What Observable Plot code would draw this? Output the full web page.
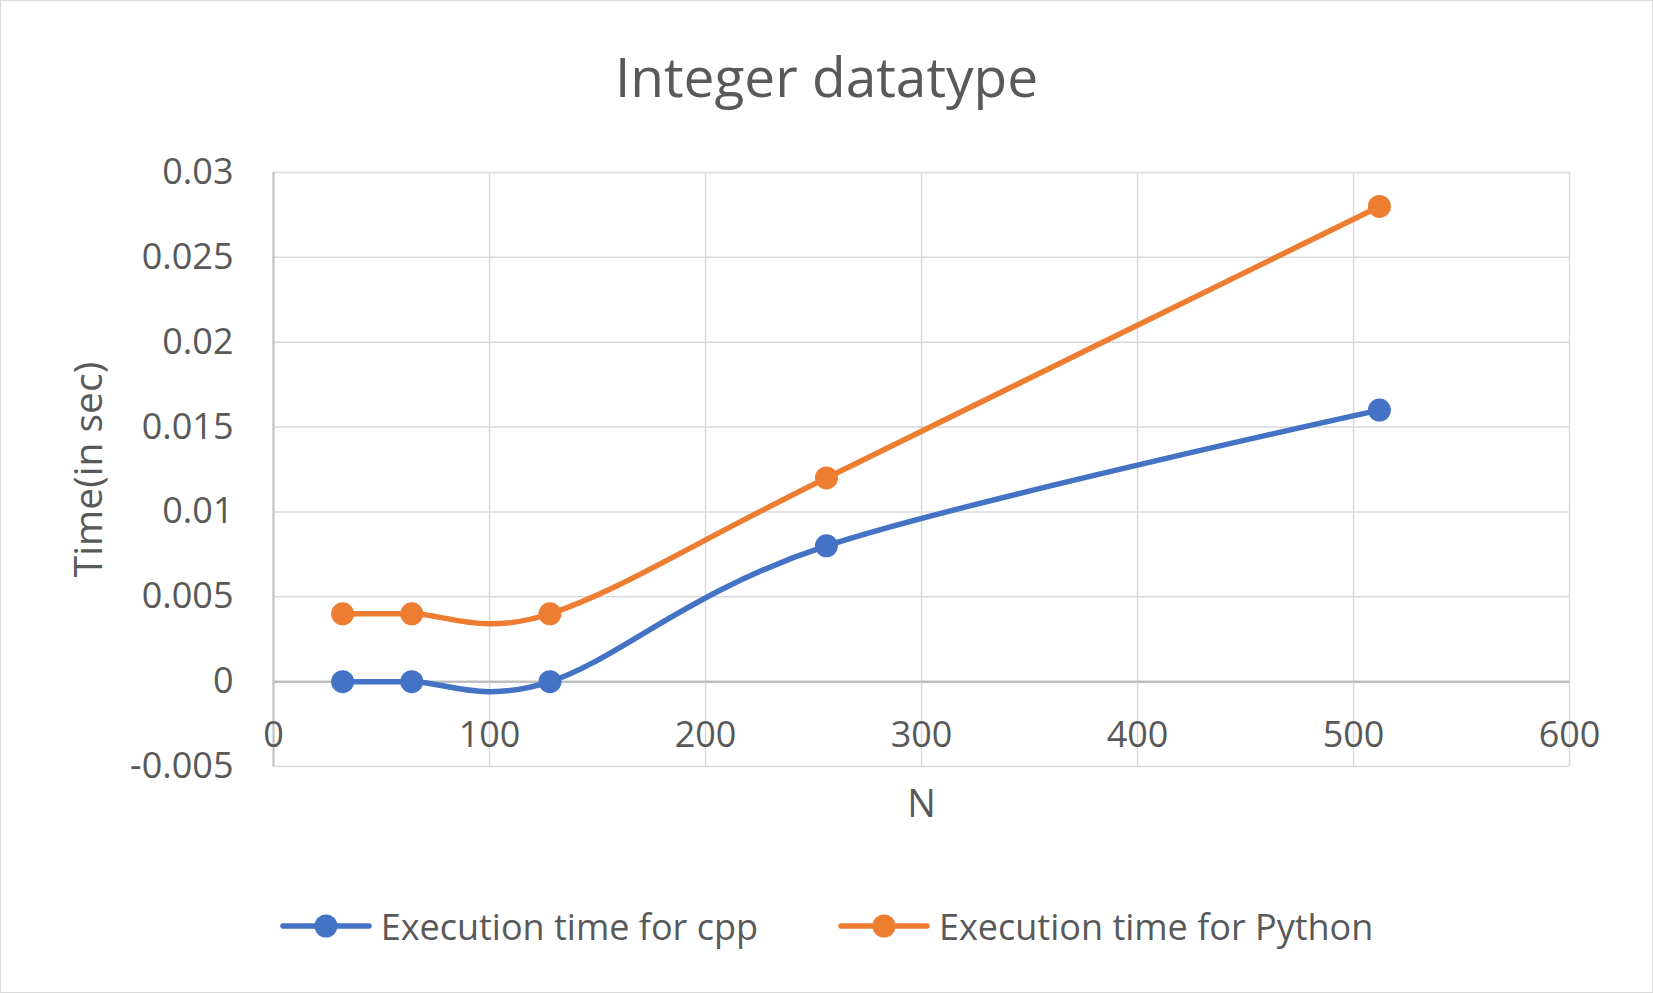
<!DOCTYPE html>
<html>
<head>
<meta charset="utf-8">
<script src="https://cdn.jsdelivr.net/npm/d3@7"></script>
<script src="https://cdn.jsdelivr.net/npm/@observablehq/plot@0.6"></script>
<style>
  html, body { margin: 0; padding: 0; background: #fff; }
  #chart { position: relative; width: 1651px; height: 991px; border: 1px solid #d9d9d9; background: #fff;
           font-family: "Open Sans", "Noto Sans", sans-serif; color: #595959; overflow: hidden; }
  #title { height: 130px; box-sizing: border-box; padding-top: 22px; line-height: 106px; text-align: center;
           font-size: 55px; color: #595959; }
  #legend { margin-top: 55px; height: 60px; display: flex; align-items: center; justify-content: center;
            font-size: 36px; color: #595959; }
  .item { display: flex; align-items: center; }
  .item + .item { margin-left: 80px; }
  .item svg { margin-right: 9px; }
  #plot svg { display: block; }
</style>
</head>
<body>
<div id="chart">
  <div id="title"></div>
  <div id="plot"></div>
  <div id="legend"></div>
</div>
<script>
const titleText = "Integer datatype";
const xLabel = "N";
const yLabel = "Time(in sec)";
const N = [32, 64, 128, 256, 512];
const cppTime = [0, 0, 0, 0.008, 0.016];
const pythonTime = [0.004, 0.004, 0.004, 0.012, 0.028];
const seriesNames = ["Execution time for cpp", "Execution time for Python"];
const seriesColors = ["#4472C4", "#ED7D31"];
const xTicks = [0, 100, 200, 300, 400, 500, 600];
const yTicks = [-0.005, 0, 0.005, 0.01, 0.015, 0.02, 0.025, 0.03];

const rows = [];
[cppTime, pythonTime].forEach((vals, s) => {
  vals.forEach((v, i) => rows.push({n: N[i], t: v, series: seriesNames[s]}));
});

document.getElementById("title").textContent = titleText;

const textColor = "#595959";
const chart = Plot.plot({
  width: 1651,
  height: 710,
  marginTop: 41,
  marginBottom: 75,
  marginLeft: 272,
  marginRight: 83,
  style: {fontFamily: '"Open Sans", "Noto Sans", sans-serif', background: "#fff"},
  x: {domain: [0, 600], axis: null},
  y: {domain: [-0.005, 0.03], axis: null},
  color: {domain: seriesNames, range: seriesColors},
  marks: [
    Plot.gridX(xTicks, {stroke: "#d9d9d9", strokeOpacity: 1, strokeWidth: 1.5}),
    Plot.gridY(yTicks, {stroke: "#d9d9d9", strokeOpacity: 1, strokeWidth: 1.5}),
    Plot.ruleX([0], {stroke: "#bfbfbf", strokeWidth: 2}),
    Plot.ruleY([0], {stroke: "#bfbfbf", strokeWidth: 2.5}),
    Plot.axisY(yTicks, {tickSize: 0, tickPadding: 40, fontSize: 36, fill: textColor, tickFormat: d => String(d), label: null}),
    Plot.text(xTicks, {x: d => d, y: () => 0, dy: 54, text: d => String(d), fontSize: 36, fill: textColor, lineAnchor: "middle"}),
    Plot.line(rows, {x: "n", y: "t", z: "series", stroke: "series", strokeWidth: 5.5, curve: "cardinal"}),
    Plot.dot(rows, {x: "n", y: "t", fill: "series", r: 11.5}),
    Plot.text([xLabel], {frameAnchor: "bottom", dy: 38, text: d => d, fontSize: 38, fill: textColor, lineAnchor: "middle"}),
    Plot.text([yLabel], {frameAnchor: "left", dx: -184, rotate: -90, text: d => d, fontSize: 39, fill: textColor, textAnchor: "middle", lineAnchor: "middle"})
  ]
});
document.getElementById("plot").appendChild(chart);

const legend = document.getElementById("legend");
seriesNames.forEach((name, i) => {
  const item = document.createElement("div");
  item.className = "item";
  item.innerHTML = `<svg width="92" height="26"><line x1="3" x2="89" y1="13" y2="13" stroke="${seriesColors[i]}" stroke-width="5.5" stroke-linecap="round"/><circle cx="46" cy="13" r="11.5" fill="${seriesColors[i]}"/></svg><span>${name}</span>`;
  legend.appendChild(item);
});
</script>
</body>
</html>
